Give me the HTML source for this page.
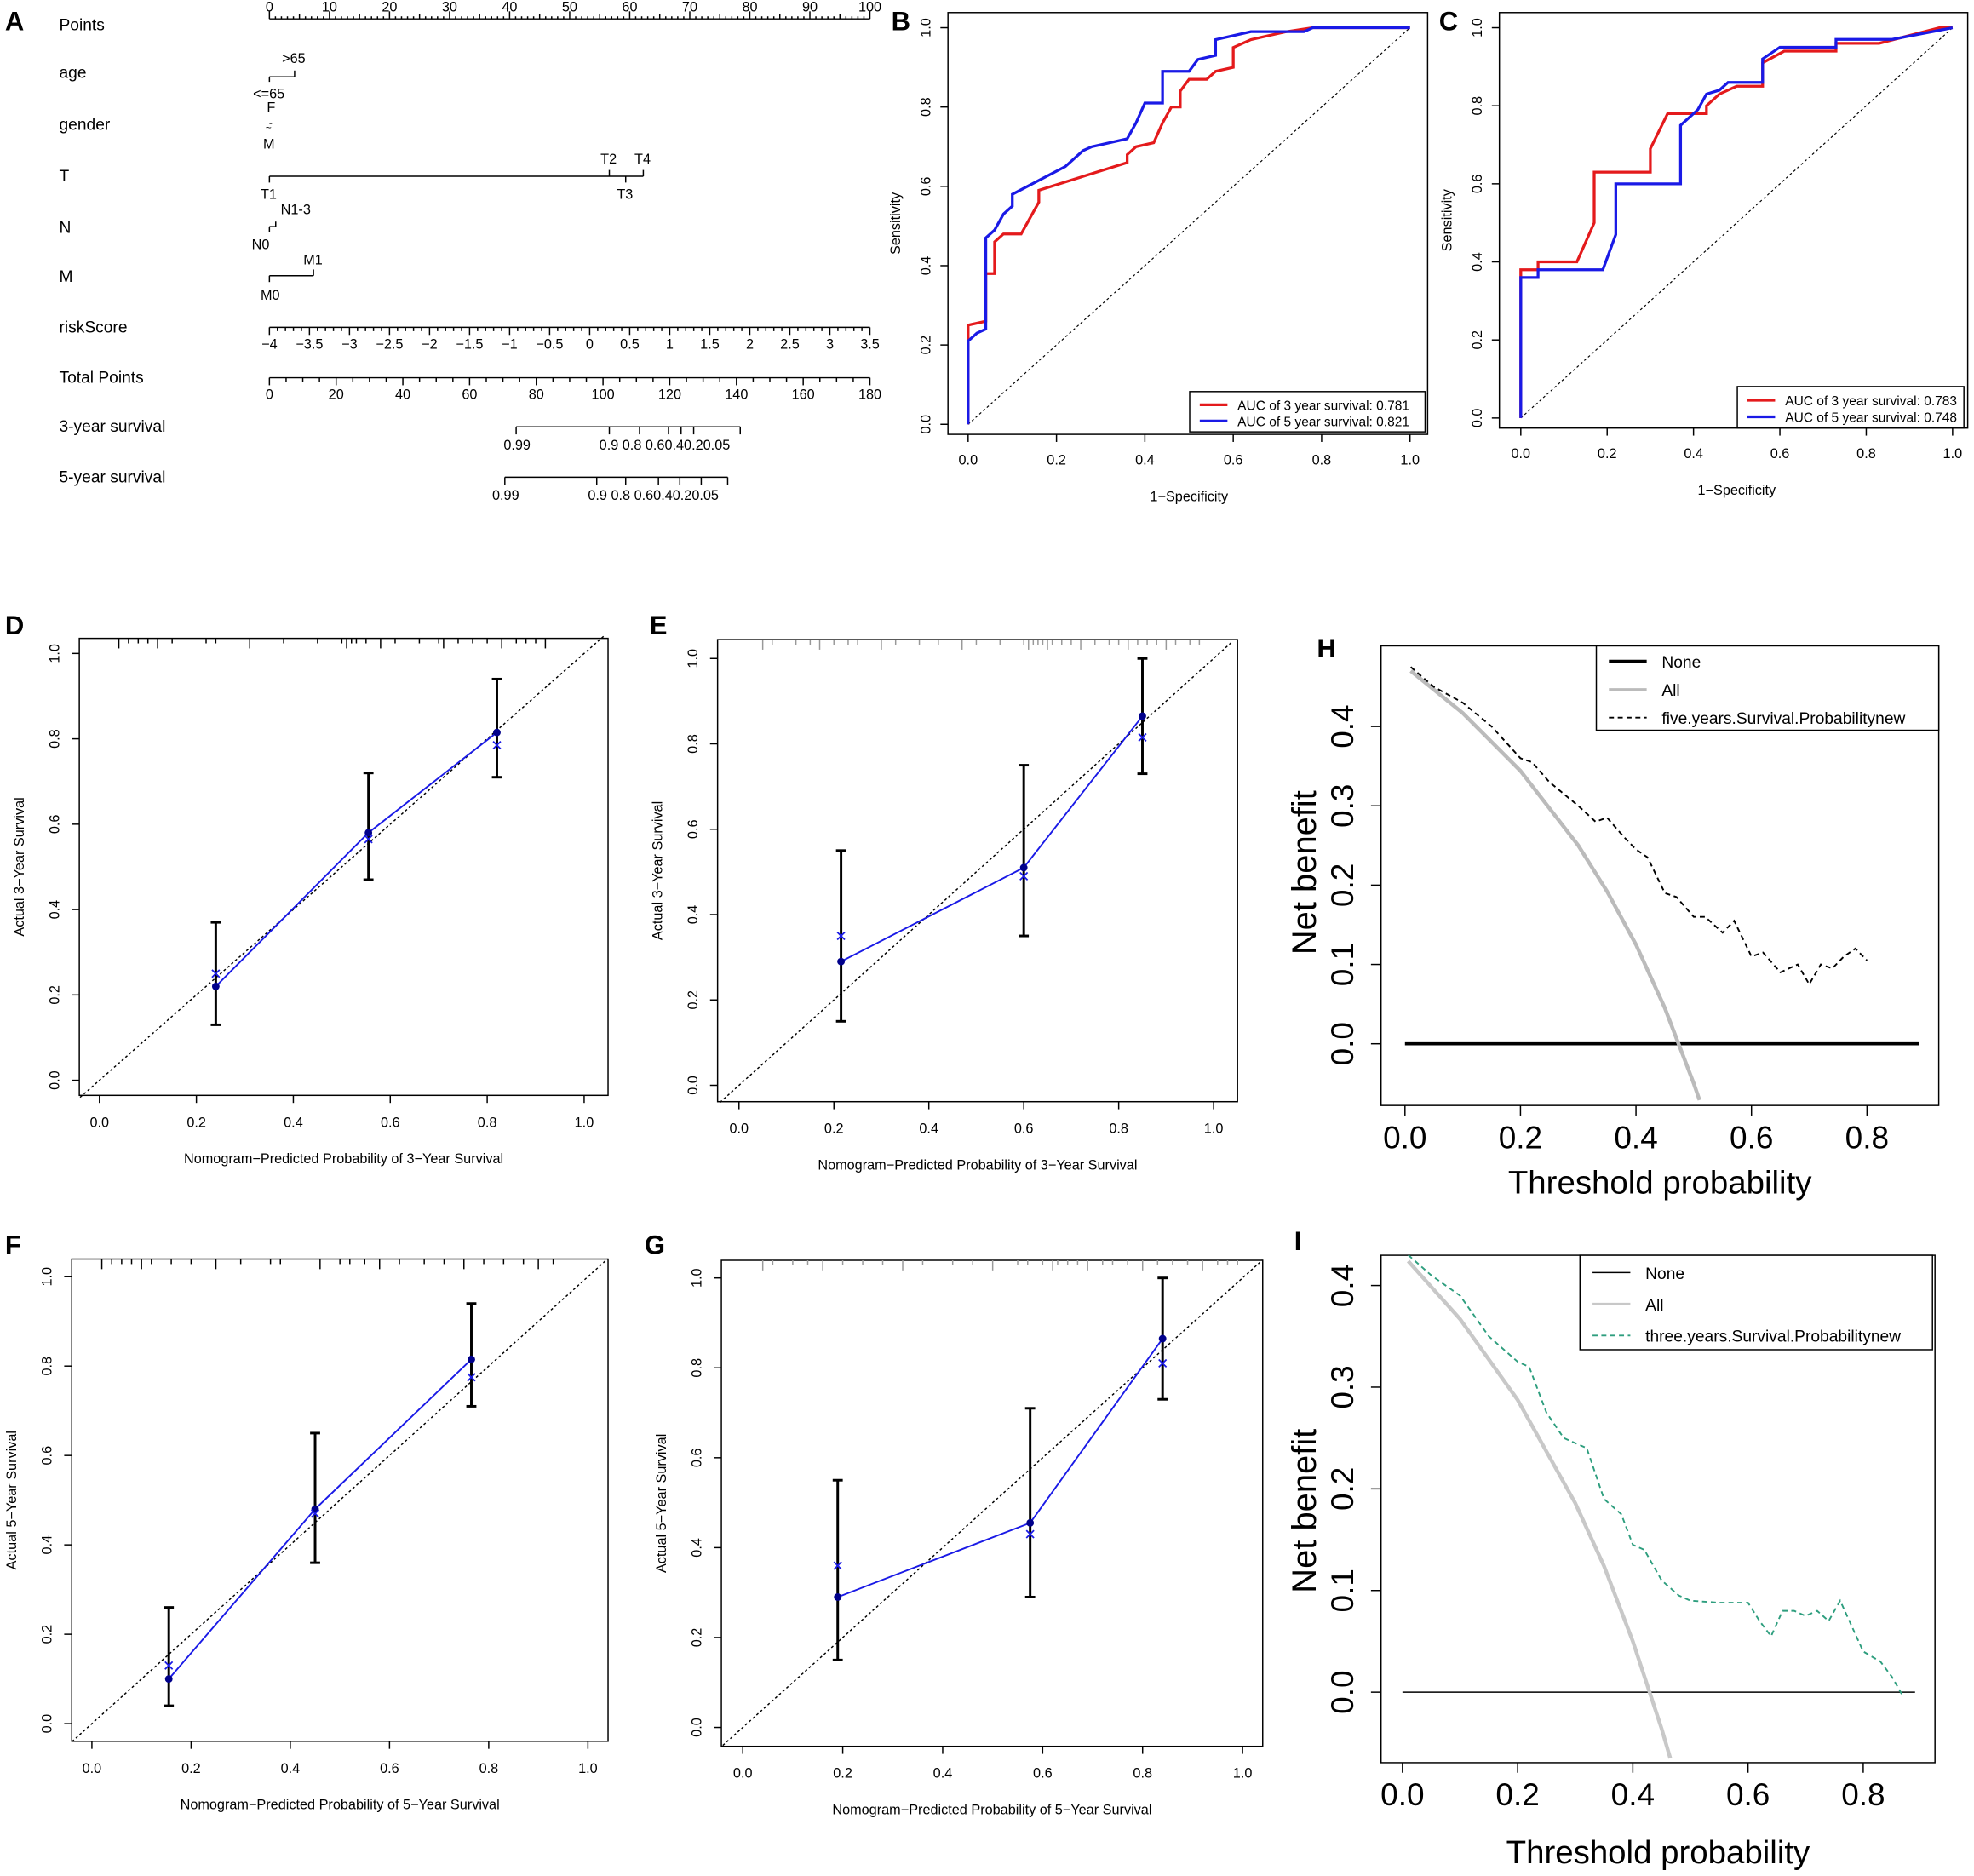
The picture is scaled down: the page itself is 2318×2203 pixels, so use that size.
<!DOCTYPE html>
<html><head><meta charset="utf-8"><style>
html,body{margin:0;padding:0;background:#fff;}
svg{display:block;font-family:"Liberation Sans",Arial,sans-serif;}
</style></head><body>
<svg id="fig" width="2318" height="2203" viewBox="0 0 1568 1490" preserveAspectRatio="none" xmlns="http://www.w3.org/2000/svg"></svg>
<script>
// ---------- DATA ----------
const rocB3 = [[0,0],[0,0.25],[0.04,0.26],[0.04,0.38],[0.06,0.38],[0.06,0.46],[0.08,0.48],[0.12,0.48],[0.14,0.52],[0.16,0.56],[0.16,0.59],[0.36,0.66],[0.36,0.68],[0.38,0.70],[0.42,0.71],[0.44,0.76],[0.46,0.80],[0.48,0.80],[0.48,0.84],[0.50,0.87],[0.54,0.87],[0.56,0.89],[0.60,0.90],[0.60,0.95],[0.64,0.97],[0.68,0.98],[0.72,0.99],[0.78,1],[1,1]];
const rocB5 = [[0,0],[0,0.21],[0.02,0.23],[0.04,0.24],[0.04,0.47],[0.06,0.49],[0.08,0.53],[0.10,0.55],[0.10,0.58],[0.22,0.65],[0.26,0.69],[0.28,0.70],[0.36,0.72],[0.38,0.76],[0.40,0.81],[0.44,0.81],[0.44,0.89],[0.50,0.89],[0.52,0.92],[0.56,0.93],[0.56,0.97],[0.64,0.99],[0.76,0.99],[0.78,1],[1,1]];
const rocC3 = [[0,0],[0,0.38],[0.04,0.38],[0.04,0.40],[0.13,0.40],[0.17,0.50],[0.17,0.63],[0.30,0.63],[0.30,0.69],[0.34,0.78],[0.43,0.78],[0.43,0.80],[0.46,0.83],[0.50,0.85],[0.56,0.85],[0.56,0.91],[0.61,0.94],[0.73,0.94],[0.73,0.96],[0.83,0.96],[0.97,1],[1,1]];
const rocC5 = [[0,0],[0,0.36],[0.04,0.36],[0.04,0.38],[0.19,0.38],[0.22,0.47],[0.22,0.60],[0.37,0.60],[0.37,0.75],[0.41,0.79],[0.43,0.83],[0.46,0.84],[0.48,0.86],[0.56,0.86],[0.56,0.92],[0.60,0.95],[0.73,0.95],[0.73,0.97],[0.86,0.97],[1,1]];
const aucLabelsB = ["0.781","0.821"];
const aucLabelsC = ["0.783","0.748"];
const calPredD = [0.24,0.555,0.82], calObsD=[0.22,0.58,0.815], calCorD=[0.25,0.565,0.785], calLoD=[0.13,0.47,0.71], calHiD=[0.37,0.72,0.94];
const calPredE = [0.215,0.60,0.85], calObsE=[0.29,0.51,0.865], calCorE=[0.35,0.49,0.815], calLoE=[0.15,0.35,0.73], calHiE=[0.55,0.75,1.0];
const calPredF = [0.155,0.45,0.765], calObsF=[0.10,0.48,0.815], calCorF=[0.13,0.47,0.775], calLoF=[0.04,0.36,0.71], calHiF=[0.26,0.65,0.94];
const calPredG = [0.19,0.575,0.84], calObsG=[0.29,0.455,0.865], calCorG=[0.36,0.43,0.81], calLoG=[0.15,0.29,0.73], calHiG=[0.55,0.71,1.0];
const rugD = [0.04,0.06,0.08,0.1,0.12,0.15,0.22,0.24,0.31,0.38,0.45,0.5,0.51,0.52,0.53,0.55,0.58,0.61,0.66,0.7,0.71,0.74,0.77,0.8,0.83,0.86,0.88,0.9,0.92];
const rugE = [0.05,0.07,0.12,0.15,0.17,0.2,0.23,0.25,0.3,0.33,0.38,0.42,0.47,0.5,0.55,0.6,0.61,0.62,0.63,0.64,0.65,0.66,0.68,0.7,0.72,0.75,0.78,0.8,0.82,0.84,0.86,0.88,0.9,0.92,0.95,0.97];
const rugF = [0.02,0.04,0.06,0.08,0.1,0.12,0.16,0.2,0.25,0.3,0.36,0.38,0.46,0.5,0.52,0.55,0.58,0.62,0.67,0.71,0.75,0.79,0.83,0.87,0.9,0.93];
const rugG = [0.04,0.06,0.1,0.13,0.16,0.2,0.24,0.28,0.32,0.36,0.42,0.46,0.5,0.55,0.57,0.6,0.62,0.63,0.65,0.67,0.69,0.72,0.74,0.77,0.8,0.83,0.86,0.89,0.92,0.95,0.97,0.99];
const dcaHThr = [0.01,0.05,0.1,0.15,0.2,0.22,0.25,0.3,0.33,0.35,0.38,0.4,0.42,0.45,0.47,0.5,0.52,0.55,0.57,0.6,0.62,0.65,0.68,0.7,0.72,0.74,0.76,0.78,0.8];
const dcaHNB  = [0.475,0.45,0.43,0.40,0.36,0.355,0.33,0.30,0.28,0.285,0.26,0.245,0.235,0.19,0.185,0.16,0.16,0.14,0.155,0.11,0.115,0.09,0.10,0.075,0.10,0.095,0.11,0.12,0.105];
const dcaHAllThr = [0.01,0.1,0.2,0.3,0.35,0.4,0.45,0.5,0.51];
const dcaHAll = [0.47,0.417,0.344,0.25,0.192,0.125,0.045,-0.05,-0.071];
const dcaIThr = [0.01,0.05,0.1,0.15,0.2,0.22,0.25,0.28,0.3,0.32,0.35,0.38,0.4,0.42,0.45,0.48,0.5,0.55,0.6,0.62,0.64,0.66,0.68,0.7,0.72,0.74,0.76,0.78,0.8,0.83,0.85,0.87];
const dcaINB  = [0.43,0.41,0.39,0.35,0.325,0.32,0.275,0.25,0.245,0.24,0.19,0.175,0.145,0.14,0.11,0.095,0.09,0.088,0.088,0.07,0.055,0.08,0.08,0.075,0.08,0.07,0.09,0.065,0.04,0.03,0.015,-0.005];
const dcaIAllThr = [0.01,0.1,0.2,0.3,0.35,0.4,0.45,0.465];
const dcaIAll = [0.424,0.367,0.2875,0.186,0.124,0.05,-0.036,-0.065];

// ---------- helpers ----------
const S = document.getElementById('fig');
const NS = 'http://www.w3.org/2000/svg';
function mk(tag, attrs, parent){const e=document.createElementNS(NS,tag);for(const k in attrs)e.setAttribute(k,attrs[k]);(parent||S).appendChild(e);return e;}
function txt(x,y,s,size,opts){opts=opts||{};const e=mk('text',{x:x,y:y,'font-size':size,fill:opts.fill||'#000','text-anchor':opts.anchor||'start'});if(opts.rot!==undefined)e.setAttribute('transform','rotate('+opts.rot+' '+x+' '+y+')');if(opts.bold)e.setAttribute('font-weight','bold');e.textContent=s;return e;}
function line(x1,y1,x2,y2,stroke,w,dash){const e=mk('line',{x1:x1,y1:y1,x2:x2,y2:y2,stroke:stroke||'#000','stroke-width':w||1});if(dash)e.setAttribute('stroke-dasharray',dash);return e;}
function lin(d0,d1,p0,p1){return v=>p0+(v-d0)*(p1-p0)/(d1-d0);}

// ---------- panel letters ----------
[['A',4,24],['B',708,24],['C',1143,24],['D',4,504],['E',516,504],['H',1046,522],['F',4,996],['G',512,996],['I',1028,993]].forEach(p=>{
  const t=txt(p[1],p[2],p[0],21,{bold:true});
  
  
});

// ---------- Panel A: nomogram ----------
(function(){
  const g=mk('g',{});
  
  
  const px=lin(0,100,214,691);
  const labels=[['Points',24],['age',62],['gender',103],['T',144],['N',185],['M',224],['riskScore',264],['Total Points',304],['3-year survival',343],['5-year survival',383]];
  labels.forEach(l=>{const t=txt(47,l[1],l[0],13);g.appendChild(t);});
  g.appendChild(line(214,15,691,15));
  for(let i=0;i<=100;i+=1){const x=px(i);g.appendChild(line(x,15,x,i%10==0?9:(i%5==0?11:13)));}
  for(let i=0;i<=100;i+=10){g.appendChild(txt(px(i),9,String(i),11,{anchor:'middle'}));}
  g.appendChild(line(214,61,234,61));g.appendChild(line(234,61,234,56));g.appendChild(line(214,61,214,65));
  g.appendChild(txt(224,50,'>65',11));g.appendChild(txt(201,78,'<=65',11));
  g.appendChild(line(214,98,216,98));g.appendChild(txt(212,89,'F',11));g.appendChild(txt(209,118,'M',11));
  g.appendChild(txt(211,104,'~',8));
  g.appendChild(line(214,140,511,140));
  [[214,1],[484,-1],[497,1],[511,-1]].forEach(t=>g.appendChild(line(t[0],140,t[0],140+5*t[1])));
  g.appendChild(txt(477,130,'T2',11));g.appendChild(txt(504,130,'T4',11));g.appendChild(txt(207,158,'T1',11));g.appendChild(txt(490,158,'T3',11));
  g.appendChild(line(214,180,219,180));g.appendChild(line(219,180,219,176));g.appendChild(line(214,180,214,184));
  g.appendChild(txt(223,170,'N1-3',11));g.appendChild(txt(200,198,'N0',11));
  g.appendChild(line(214,219,249,219));g.appendChild(line(249,219,249,214));g.appendChild(line(214,219,214,224));
  g.appendChild(txt(241,210,'M1',11));g.appendChild(txt(207,238,'M0',11));
  const rx=lin(-4,3.5,214,691);
  g.appendChild(line(214,260,691,260));
  for(let v=-4;v<=3.5001;v+=0.1){const major=Math.abs(v*2-Math.round(v*2))<1e-6;g.appendChild(line(rx(v),260,rx(v),major?266:263));}
  for(let v=-4;v<=3.5001;v+=0.5){let s=(Math.round(v*10)/10).toString().replace('-','\u2212');g.appendChild(txt(rx(v),277,s,11,{anchor:'middle'}));}
  const tx=lin(0,180,214,691);
  g.appendChild(line(214,300,691,300));
  for(let v=0;v<=180;v+=5){g.appendChild(line(tx(v),300,tx(v),v%20==0?306:303));}
  for(let v=0;v<=180;v+=20){g.appendChild(txt(tx(v),317,String(v),11,{anchor:'middle'}));}
  const s3=[[410,'0.99'],[484,'0.9'],[508,'0.8'],[531,'0.6'],[541,'0.4'],[551,'0.2'],[588,'0.05']];
  g.appendChild(line(410,339,588,339));
  s3.forEach(s=>{g.appendChild(line(s[0],339,s[0],345));});
  g.appendChild(txt(400,357,'0.99',11));g.appendChild(txt(476,357,'0.9  0.8  0.60.40.20.05',11));
  const s5=[[401,'0.99'],[474,'0.9'],[497,'0.8'],[523,'0.6'],[540,'0.4'],[557,'0.2'],[578,'0.05']];
  g.appendChild(line(401,379,578,379));
  s5.forEach(s=>{g.appendChild(line(s[0],379,s[0],385));});
  g.appendChild(txt(391,397,'0.99',11));g.appendChild(txt(467,397,'0.9  0.8  0.60.40.20.05',11));
  S.appendChild(g);
})();

// ---------- ROC panels ----------
function roc(name,box,x0,x1,y0,y1,red,blue,aucs,leg,xlabY){
  const g=mk('g',{});
  
  
  const X=lin(0,1,x0,x1),Y=lin(0,1,y0,y1);
  const r=mk('rect',{x:box[0],y:box[1],width:box[2]-box[0],height:box[3]-box[1],fill:'none',stroke:'#000','stroke-width':1},g);
  
  
  g.appendChild(line(X(0),Y(0),X(1),Y(1),'#000',0.8,'2,2'));
  for(let i=0;i<=5;i++){const v=i/5;
    g.appendChild(line(X(v),box[3],X(v),box[3]+6));
    g.appendChild(txt(X(v),box[3]+24,v.toFixed(1),11,{anchor:'middle'}));
    g.appendChild(line(box[0],Y(v),box[0]-6,Y(v)));
    g.appendChild(txt(box[0]-14,Y(v),v.toFixed(1),11,{anchor:'middle',rot:-90}));
  }
  const xt=txt((x0+x1)/2,xlabY,'1\u2212Specificity',11,{anchor:'middle'});
  
  
  g.appendChild(xt);
  const yt=txt(box[0]-38,(box[1]+box[3])/2,'Sensitivity',11,{anchor:'middle',rot:-90});
  
  
  g.appendChild(yt);
  [[red,'#e41a1c','roc-3-year'],[blue,'#1a1ae6','roc-5-year']].forEach(s=>{
    const p=mk('polyline',{points:s[0].map(d=>X(d[0])+','+Y(d[1])).join(' '),fill:'none',stroke:s[1],'stroke-width':2.2},g);
    
    
  });
  const lg=mk('g',{},g);
  
  
  mk('rect',{x:leg[0],y:leg[1],width:leg[2]-leg[0],height:leg[3]-leg[1],fill:'#fff',stroke:'#000','stroke-width':1},lg);
  const h=(leg[3]-leg[1]);
  lg.appendChild(line(leg[0]+8,leg[1]+h*0.33,leg[0]+30,leg[1]+h*0.33,'#e41a1c',2.2));
  lg.appendChild(line(leg[0]+8,leg[1]+h*0.73,leg[0]+30,leg[1]+h*0.73,'#1a1ae6',2.2));
  lg.appendChild(txt(leg[0]+38,leg[1]+h*0.33+4,'AUC of 3 year survival:  '+aucs[0],10.5));
  lg.appendChild(txt(leg[0]+38,leg[1]+h*0.73+4,'AUC of 5 year survival:  '+aucs[1],10.5));
  S.appendChild(g);
}
roc('roc-panel-b',[753,10,1134,345],769,1120,337,22,rocB3,rocB5,aucLabelsB,[945,311,1132,343],398);
roc('roc-panel-c',[1191,10,1563,340],1208,1551,332,22,rocC3,rocC5,aucLabelsC,[1380,307,1560,340],393);

// ---------- calibration panels ----------
function cal(name,box,x0,x1,y0,y1,pred,obs,cor,lo,hi,rug,rugColor,n){
  const g=mk('g',{});
  
  
  const X=lin(0,1,x0,x1),Y=lin(0,1,y0,y1);
  mk('rect',{x:box[0],y:box[1],width:box[2]-box[0],height:box[3]-box[1],fill:'none',stroke:'#000','stroke-width':1},g);
  for(let i=0;i<=5;i++){const v=i/5;
    g.appendChild(line(X(v),box[3],X(v),box[3]+6));
    g.appendChild(txt(X(v),box[3]+25,v.toFixed(1),11,{anchor:'middle'}));
    g.appendChild(line(box[0],Y(v),box[0]-6,Y(v)));
    g.appendChild(txt(box[0]-16,Y(v),v.toFixed(1),11,{anchor:'middle',rot:-90}));
  }
  const xt=txt((box[0]+box[2])/2,box[3]+54,'Nomogram\u2212Predicted Probability of '+n+'\u2212Year Survival',11,{anchor:'middle'});
  
  
  g.appendChild(xt);
  const yt=txt(box[0]-44,(box[1]+box[3])/2,'Actual '+n+'\u2212Year Survival',11,{anchor:'middle',rot:-90});
  
  
  g.appendChild(yt);
  const a=Math.max(-0.04,(box[0]-x0)/(x1-x0)), b=Math.min(1.04,(box[2]-x0)/(x1-x0));
  g.appendChild(line(X(a),Y(a),X(b),Y(b),'#000',1,'2,2'));
  rug.forEach((v,i)=>{g.appendChild(line(X(v),box[1],X(v),box[1]+(i%4==0?8:4),rugColor,1));});
  const pl=mk('polyline',{points:pred.map((p,i)=>X(p)+','+Y(obs[i])).join(' '),fill:'none',stroke:'#1a1ae6','stroke-width':1.3},g);
  
  
  pred.forEach((p,i)=>{
    const eb=line(X(p),Y(lo[i]),X(p),Y(hi[i]),'#000',2);
    
    
    g.appendChild(eb);
    g.appendChild(line(X(p)-4,Y(lo[i]),X(p)+4,Y(lo[i]),'#000',2));
    g.appendChild(line(X(p)-4,Y(hi[i]),X(p)+4,Y(hi[i]),'#000',2));
    const c=mk('circle',{cx:X(p),cy:Y(obs[i]),r:3,fill:'#00008b'},g);
    
    
    const cx=X(p),cy=Y(cor[i]);
    g.appendChild(line(cx-3,cy-3,cx+3,cy+3,'#1a1ae6',1.2));
    g.appendChild(line(cx-3,cy+3,cx+3,cy-3,'#1a1ae6',1.2));
  });
  S.appendChild(g);
}
cal('calibration-panel-d',[63,507,483,870],79,464,858,519,calPredD,calObsD,calCorD,calLoD,calHiD,rugD,'#000','3');
cal('calibration-panel-e',[570,508,983,875],587,964,862,523,calPredE,calObsE,calCorE,calLoE,calHiE,rugE,'#999','3');
cal('calibration-panel-f',[57,1000,483,1383],73,467,1369,1014,calPredF,calObsF,calCorF,calLoF,calHiF,rugF,'#000','5');
cal('calibration-panel-g',[573,1001,1003,1387],590,987,1372,1015,calPredG,calObsG,calCorG,calLoG,calHiG,rugG,'#999','5');

// ---------- DCA panels ----------
function dca(name,box,x0,x08,y0,y04,thr,nb,allThr,all,nbColor,noneW,allColor,legBox,legText,xlabY,ylabY){
  const g=mk('g',{});
  
  
  const X=lin(0,0.8,x0,x08),Y=lin(0,0.4,y0,y04);
  const cid='clip'+name;
  const cp=mk('clipPath',{id:cid},g);
  mk('rect',{x:box[0],y:box[1],width:box[2]-box[0],height:box[3]-box[1]},cp);
  mk('rect',{x:box[0],y:box[1],width:box[2]-box[0],height:box[3]-box[1],fill:'none',stroke:'#000','stroke-width':1},g);
  for(let i=0;i<=4;i++){const v=i*0.2;
    g.appendChild(line(X(v),box[3],X(v),box[3]+8));
    g.appendChild(txt(X(v),box[3]+34,v.toFixed(1),25,{anchor:'middle'}));
  }
  for(let i=0;i<=4;i++){const v=i*0.1;
    g.appendChild(line(box[0],Y(v),box[0]-8,Y(v)));
    g.appendChild(txt(box[0]-22,Y(v),v.toFixed(1),25,{anchor:'middle',rot:-90}));
  }
  const xt=txt((box[0]+box[2])/2,xlabY,'Threshold probability',26,{anchor:'middle'});
  
  
  g.appendChild(xt);
  const yt=txt(box[0]-52,ylabY,'Net benefit',27,{anchor:'middle',rot:-90});
  
  
  g.appendChild(yt);
  const inner=mk('g',{'clip-path':'url(#'+cid+')'},g);
  const nl=line(X(0),Y(0),X(0.89),Y(0),'#000',noneW);
  
  
  inner.appendChild(nl);
  const al=mk('polyline',{points:allThr.map((t,i)=>X(t)+','+Y(all[i])).join(' '),fill:'none',stroke:allColor,'stroke-width':3},inner);
  
  
  const ml=mk('polyline',{points:thr.map((t,i)=>X(t)+','+Y(nb[i])).join(' '),fill:'none',stroke:nbColor,'stroke-width':1.3,'stroke-dasharray':'4,3'},inner);
  
  
  const lg=mk('g',{},g);
  
  
  mk('rect',{x:legBox[0],y:legBox[1],width:legBox[2]-legBox[0],height:legBox[3]-legBox[1],fill:'#fff',stroke:'#000','stroke-width':1},lg);
  const h=(legBox[3]-legBox[1])/3;
  const st=[['#000',noneW,null],[allColor,2,null],[nbColor,1.3,'4,3']];
  legText.forEach((s,i)=>{const yy=legBox[1]+h*(i+0.55);
    lg.appendChild(line(legBox[0]+10,yy,legBox[0]+40,yy,st[i][0],st[i][1],st[i][2]));
    lg.appendChild(txt(legBox[0]+52,yy+5,s,13));
  });
  S.appendChild(g);
}
dca('dca-panel-h',[1097,513,1540,878],1116,1483,829,577,dcaHThr,dcaHNB,dcaHAllThr,dcaHAll,'#000',2.5,'#bbb',[1268,513,1540,580],['None','All','five.years.Survival.Probabilitynew'],948,693);
dca('dca-panel-i',[1097,997,1537,1400],1114,1480,1344,1021,dcaIThr,dcaINB,dcaIAllThr,dcaIAll,'#2e9e7e',1,'#c8c8c8',[1255,997,1535,1072],['None','All','three.years.Survival.Probabilitynew'],1480,1200);
</script>
</body></html>
